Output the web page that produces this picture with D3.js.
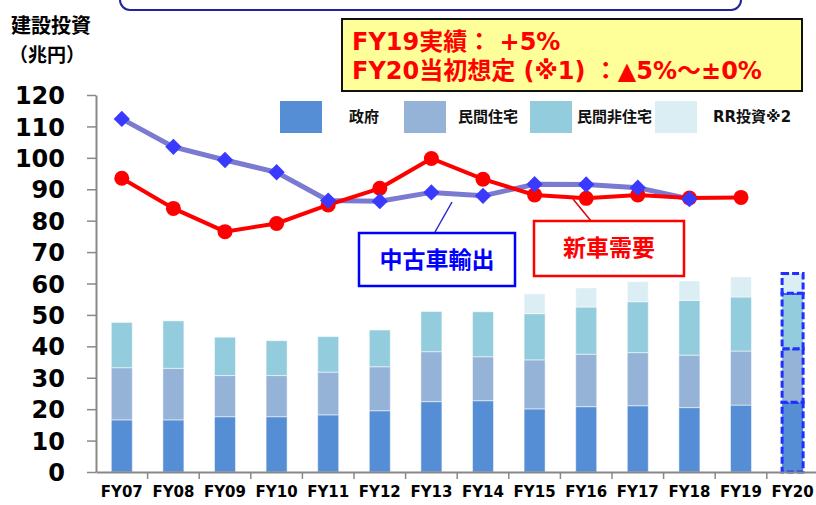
<!DOCTYPE html>
<html>
<head>
<meta charset="utf-8">
<script src="https://cdn.jsdelivr.net/npm/d3@7"></script>
<style>
  body { margin: 0; background: #fff; }
  svg { display: block; }
  text { font-family: "DejaVu Sans", "Noto Sans CJK JP", sans-serif; font-weight: bold; }
</style>
</head>
<body>
<div id="chart"></div>
<script>
// categories
var years = ['FY07','FY08','FY09','FY10','FY11','FY12','FY13','FY14','FY15','FY16','FY17','FY18','FY19','FY20'];

// stacked bars (兆円)
var gov    = [16.6,16.6,17.6,17.6,18.2,19.5,22.4,22.7,20.1,20.8,21.1,20.5,21.3,22.2];
var resid  = [16.6,16.4,13.1,13.1,13.6,14.0,15.9,14.0,15.6,16.7,16.9,16.7,17.2,17.0];
var nonres = [14.4,15.1,12.2,11.1,11.3,11.7,12.8,14.3,14.7,15.0,16.2,17.4,17.2,17.7];
var rr     = [0,0,0,0,0,0,0,0,6.3,6.1,6.4,6.2,6.4,6.3];

// lines
var newCar     = [93.5,83.9,76.5,79.1,85.0,90.3,99.8,93.2,88.2,87.1,88.2,87.2,87.4,null];
var usedExport = [112.4,103.5,99.3,95.4,86.4,86.2,89.0,87.9,91.6,91.5,90.5,86.9,null,null];

var yTicks = [0,10,20,30,40,50,60,70,80,90,100,110,120];
var seriesNames = ['政府','民間住宅','民間非住宅','RR投資※2'];
var colors = ['#558ed5','#95b3d7','#93cddd','#dbeef4'];

var W = 816, H = 505;
var svg = d3.select('#chart').append('svg').attr('width', W).attr('height', H);

var x = d3.scaleBand().domain(years).range([96, 818.4]).paddingInner(0).paddingOuter(0);
var y = d3.scaleLinear().domain([0, 120]).range([472, 95]);
var barW = 21;

// top partially visible box
svg.append('rect')
  .attr('x', 120).attr('y', -30).attr('width', 621).attr('height', 40)
  .attr('rx', 10).attr('ry', 10)
  .attr('fill', 'none').attr('stroke', '#22229a').attr('stroke-width', 2);

// axis title
svg.append('text').attr('x', 51).attr('y', 33).attr('text-anchor', 'middle')
  .style('font-family', '"Noto Sans CJK JP"').style('font-size', '20px').text('建設投資');
svg.append('text').attr('x', 47).attr('y', 62).attr('text-anchor', 'middle')
  .style('font-family', '"Noto Sans CJK JP"').style('font-size', '19px').text('（兆円）');

// stacked bars
var table = years.map(function(yr, i) {
  return { year: yr, gov: gov[i], resid: resid[i], nonres: nonres[i], rr: rr[i] };
});
var keys = ['gov','resid','nonres','rr'];
var stacked = d3.stack().keys(keys)(table);

var layers = svg.append('g').selectAll('g')
  .data(stacked).enter().append('g')
  .attr('fill', function(d, i) { return colors[i]; });

layers.selectAll('rect')
  .data(function(d) { return d.filter(function(p) { return p[1] - p[0] > 0; }); })
  .enter().append('rect')
  .attr('x', function(d) { return x(d.data.year) + x.bandwidth() / 2 - barW / 2; })
  .attr('width', barW)
  .attr('y', function(d) { return y(d[1]); })
  .attr('height', function(d) { return y(d[0]) - y(d[1]); })
  .attr('stroke', function(d) { return d.data.year === 'FY20' ? '#1f2fff' : 'rgba(255,255,255,0.5)'; })
  .attr('stroke-width', function(d) { return d.data.year === 'FY20' ? 3 : 1; })
  .attr('stroke-dasharray', function(d) { return d.data.year === 'FY20' ? '7,3' : null; });

// axes
var yAxis = d3.axisLeft(y).tickValues(yTicks).tickSize(9).tickSizeOuter(0);
var gy = svg.append('g').attr('transform', 'translate(96,0)').call(yAxis);
gy.select('.domain').attr('stroke', '#888').attr('stroke-width', 2);
gy.selectAll('.tick line').attr('stroke', '#888').attr('stroke-width', 1.5);
gy.selectAll('.tick text').attr('x', -31).attr('dy', '0.36em')
  .style('font-size', '24px').attr('fill', '#000');

var xAxis = d3.axisBottom(x).tickSize(0).tickSizeOuter(0);
var gx = svg.append('g').attr('transform', 'translate(0,472)').call(xAxis);
gx.select('.domain').attr('stroke', '#888').attr('stroke-width', 2);
gx.selectAll('.tick text').attr('y', 20).attr('dy', '0.35em')
  .style('font-size', '15px').attr('fill', '#000');
// tick marks between categories
gx.selectAll('.sep').data(years.slice(1)).enter().append('line')
  .attr('x1', function(d) { return x(d); }).attr('x2', function(d) { return x(d); })
  .attr('y1', 0).attr('y2', 7).attr('stroke', '#888').attr('stroke-width', 1.5);

// lines
function pts(arr) {
  return arr.map(function(v, i) { return { year: years[i], v: v }; })
            .filter(function(p) { return p.v != null; });
}
var line = d3.line()
  .x(function(d) { return x(d.year) + x.bandwidth() / 2; })
  .y(function(d) { return y(d.v); });

svg.append('path').datum(pts(usedExport)).attr('d', line)
  .attr('fill', 'none').attr('stroke', '#7a7ad2').attr('stroke-width', 5);
svg.append('path').datum(pts(newCar)).attr('d', line)
  .attr('fill', 'none').attr('stroke', '#ff0000').attr('stroke-width', 4);

svg.append('g').selectAll('circle').data(pts(newCar)).enter().append('circle')
  .attr('cx', function(d) { return x(d.year) + x.bandwidth() / 2; })
  .attr('cy', function(d) { return y(d.v); })
  .attr('r', 7.5).attr('fill', '#ff0000');

svg.append('g').selectAll('path').data(pts(usedExport)).enter().append('path')
  .attr('d', d3.symbol().type(d3.symbolDiamond2).size(170))
  .attr('transform', function(d) {
    return 'translate(' + (x(d.year) + x.bandwidth() / 2) + ',' + y(d.v) + ')';
  })
  .attr('fill', '#3a3aff');

// line labels
svg.append('line').attr('x1', 435).attr('y1', 232).attr('x2', 452).attr('y2', 202)
  .attr('stroke', '#2a2ad0').attr('stroke-width', 1.5);
svg.append('rect').attr('x', 359).attr('y', 233).attr('width', 156).attr('height', 53)
  .attr('fill', '#fff').attr('stroke', '#0000ff').attr('stroke-width', 2.5);
svg.append('text').attr('x', 437).attr('y', 260).attr('dy', '0.35em').attr('text-anchor', 'middle')
  .style('font-family', '"Noto Sans CJK JP"').style('font-size', '23px').attr('fill', '#0000ff')
  .text('中古車輸出');

svg.append('line').attr('x1', 591).attr('y1', 221).attr('x2', 573).attr('y2', 199)
  .attr('stroke', '#e00000').attr('stroke-width', 1.5);
svg.append('rect').attr('x', 534).attr('y', 221).attr('width', 150).attr('height', 55)
  .attr('fill', '#fff').attr('stroke', '#ff0000').attr('stroke-width', 2.5);
svg.append('text').attr('x', 609).attr('y', 248).attr('dy', '0.35em').attr('text-anchor', 'middle')
  .style('font-family', '"Noto Sans CJK JP"').style('font-size', '23px').attr('fill', '#ff0000')
  .text('新車需要');

// legend
var legX = [280, 404, 530, 655];
var legTextX = [349, 458, 577, 713];
var leg = svg.append('g');
seriesNames.forEach(function(name, i) {
  leg.append('rect').attr('x', legX[i]).attr('y', 101).attr('width', 42).attr('height', 32)
    .attr('fill', colors[i]);
  leg.append('text').attr('x', legTextX[i]).attr('y', 117).attr('dy', '0.35em')
    .style('font-size', '15px').attr('fill', '#111').text(name);
});

// callout
svg.append('rect').attr('x', 342).attr('y', 19).attr('width', 460).attr('height', 72)
  .attr('fill', '#ffff99').attr('stroke', '#111').attr('stroke-width', 2);
svg.append('text').attr('x', 352).attr('y', 50).attr('fill', '#ff0000')
  .style('font-size', '24px').text('FY19実績： +5%');
svg.append('text').attr('x', 352).attr('y', 79).attr('fill', '#ff0000')
  .style('font-size', '24px').text('FY20当初想定 (※1) ：▲5%～±0%');
</script>
</body>
</html>
